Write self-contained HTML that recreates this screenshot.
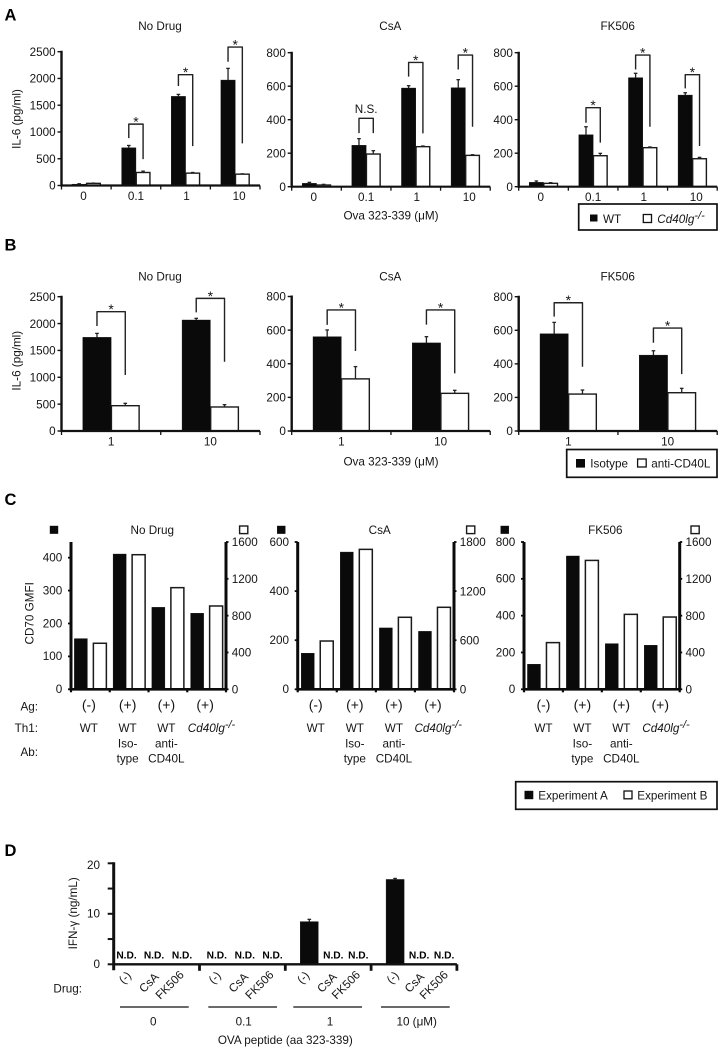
<!DOCTYPE html>
<html lang="en">
<head>
<meta charset="utf-8">
<title>IL-6, CD70 and IFN-γ responses</title>
<style>
html,body{margin:0;padding:0;background:#fff;}
svg{display:block;}
text{font-family:"Liberation Sans",Arial,sans-serif;font-size:11.7px;fill:#151515;}
.letter{font-size:16.5px;font-weight:bold;fill:#000;}
.paren{font-size:14px;}
.nd{font-size:10.2px;font-weight:bold;fill:#000;}
.frame{fill:#fff;stroke:#111;stroke-width:1.7;}
.sw-b{fill:#0a0a0a;stroke:#0a0a0a;stroke-width:1;}
.sw-w{fill:#fff;stroke:#111;stroke-width:1.3;}
</style>
</head>
<body>
<svg id="figure" xmlns="http://www.w3.org/2000/svg" width="718" height="1050" viewBox="0 0 718 1050">
<rect x="0" y="0" width="718" height="1050" fill="#fff"/>

<text class="letter" x="4.5" y="20.5">A</text>
<text class="letter" x="4.5" y="250.5">B</text>
<text class="letter" x="4.5" y="505">C</text>
<text class="letter" x="4.5" y="856">D</text>

<text x="160" y="30" text-anchor="middle">No Drug</text>
<text x="390.3" y="30" text-anchor="middle">CsA</text>
<text x="617.7" y="30" text-anchor="middle">FK506</text>
<text transform="translate(20.7,119) rotate(-90)" text-anchor="middle">IL-6 (pg/ml)</text>
<text x="391" y="219.5" text-anchor="middle">Ova 323-339 (μM)</text>

<g>
<rect class="frame" x="578.7" y="204" width="138.3" height="26"/>
<rect class="sw-b" x="590.5" y="215" width="6.5" height="6"/>
<text x="603" y="223">WT</text>
<rect class="sw-w" x="643.3" y="214.5" width="8.2" height="8"/>
<text x="657.3" y="223" font-style="italic">Cd40lg<tspan dy="-4" font-size="11">-/-</tspan></text>
</g>

<text x="160" y="280.7" text-anchor="middle">No Drug</text>
<text x="390.3" y="280.7" text-anchor="middle">CsA</text>
<text x="617.7" y="280.7" text-anchor="middle">FK506</text>
<text transform="translate(20.7,360.7) rotate(-90)" text-anchor="middle">IL-6 (pg/ml)</text>
<text x="391" y="465.7" text-anchor="middle">Ova 323-339 (μM)</text>

<g>
<rect class="frame" x="566.7" y="449.5" width="150.3" height="27.8"/>
<rect class="sw-b" x="576.5" y="459.5" width="8" height="7.6"/>
<text x="590.3" y="467.5">Isotype</text>
<rect class="sw-w" x="637.6" y="459" width="8.6" height="8"/>
<text x="651.3" y="467.5">anti-CD40L</text>
</g>

<text x="152.3" y="534" text-anchor="middle">No Drug</text>
<text x="379.7" y="534" text-anchor="middle">CsA</text>
<text x="605.3" y="534" text-anchor="middle">FK506</text>
<text transform="translate(33.5,613.3) rotate(-90)" text-anchor="middle">CD70 GMFI</text>
<text x="38" y="710.7" text-anchor="end">Ag:</text>
<text x="38" y="732" text-anchor="end">Th1:</text>
<text x="38" y="756" text-anchor="end">Ab:</text>

<g>
<rect class="frame" x="515.7" y="781.7" width="201.3" height="27.6"/>
<rect class="sw-b" x="525" y="791.3" width="7.8" height="7.4"/>
<text x="538.3" y="799.3">Experiment A</text>
<rect class="sw-w" x="624" y="791" width="8" height="7.8"/>
<text x="637.3" y="799.3">Experiment B</text>
</g>

<text transform="translate(77,913.3) rotate(-90)" text-anchor="middle">IFN-γ (ng/mL)</text>
<text x="82" y="992.7" text-anchor="end">Drug:</text>
<text x="285.3" y="1044" text-anchor="middle">OVA peptide (aa 323-339)</text>
</svg>

<script>
// ---- Panel A data ----
const aCategories = ['0', '0.1', '1', '10'];

const a1Ticks = [0, 500, 1000, 1500, 2000, 2500];
const a1Black = [25, 704, 1665, 1970];
const a1BlackErr = [8, 44, 37, 218];
const a1White = [40, 243, 231, 212];
const a1WhiteErr = [5, 25, 12, 6];
const a1BracketTop = [null, 1147, 2070, 2587];
const a1BracketLeft = [null, 885, 1858, 2313];
const a1BracketRight = [null, 493, 736, 786];
const a1Marks = [null, '*', '*', '*'];

const a2Ticks = [0, 200, 400, 600, 800];
const a2Black = [20, 247, 589, 591];
const a2BlackErr = [6, 40, 14, 48];
const a2White = [10, 195, 239, 187];
const a2WhiteErr = [4, 20, 4, 4];
const a2BracketTop = [null, 408, 742, 786];
const a2BracketLeft = [null, 320, 657, 700];
const a2BracketRight = [null, 320, 318, 358];
const a2Marks = [null, 'N.S.', '*', '*'];

const a3Ticks = [0, 200, 400, 600, 800];
const a3Black = [26, 310, 651, 547];
const a3BlackErr = [8, 48, 26, 14];
const a3White = [20, 185, 233, 167];
const a3WhiteErr = [4, 14, 4, 8];
const a3BracketTop = [null, 472, 786, 669];
const a3BracketLeft = [null, 382, 700, 587];
const a3BracketRight = [null, 263, 358, 243];
const a3Marks = [null, '*', '*', '*'];

// ---- Panel B data ----
const bCategories = ['1', '10'];

const b1Ticks = [0, 500, 1000, 1500, 2000, 2500];
const b1Black = [1743, 2066];
const b1BlackErr = [74, 31];
const b1White = [471, 447];
const b1WhiteErr = [44, 43];
const b1BracketTop = [2221, 2469];
const b1BracketLeft = [1954, 2208];
const b1BracketRight = [1042, 1290];
const b1Marks = ['*', '*'];

const b2Ticks = [0, 200, 400, 600, 800];
const b2Black = [561, 524];
const b2BlackErr = [40, 37];
const b2White = [310, 224];
const b2WhiteErr = [73, 18];
const b2BracketTop = [720, 720];
const b2BracketLeft = [631, 633];
const b2BracketRight = [476, 343];
const b2Marks = ['*', '*'];

const b3Ticks = [0, 200, 400, 600, 800];
const b3Black = [579, 452];
const b3BlackErr = [68, 26];
const b3White = [220, 228];
const b3WhiteErr = [24, 26];
const b3BracketTop = [764, 613];
const b3BracketLeft = [681, 526];
const b3BracketRight = [383, 339];
const b3Marks = ['*', '*'];

// ---- Panel C data ----
const cAg = ['(-)', '(+)', '(+)', '(+)'];
const cTh1 = ['WT', 'WT', 'WT', 'Cd40lg'];
const cAbTop = ['', 'Iso-', 'anti-', ''];
const cAbBottom = ['', 'type', 'CD40L', ''];

const c1LeftTicks = [0, 100, 200, 300, 400];
const c1RightTicks = [0, 400, 800, 1200, 1600];
const c1ExperimentA = [154, 411, 249, 231];
const c1ExperimentB = [500, 1462, 1104, 905];

const c2LeftTicks = [0, 200, 400, 600];
const c2RightTicks = [0, 600, 1200, 1800];
const c2ExperimentA = [147, 559, 250, 236];
const c2ExperimentB = [590, 1710, 880, 1002];

const c3LeftTicks = [0, 200, 400, 600, 800];
const c3RightTicks = [0, 400, 800, 1200, 1600];
const c3ExperimentA = [136, 724, 248, 239];
const c3ExperimentB = [507, 1400, 814, 785];

// ---- Panel D data ----
const dDoses = ['0', '0.1', '1', '10 (μM)'];
const dDrugs = ['(-)', 'CsA', 'FK506'];
const dYTicks = [0, 5, 10, 15, 20];
const dYLabels = ['0', '', '10', '', '20'];
const dNoDrug = [null, null, 8.45, 16.8];
const dNoDrugErr = [0, 0, 0.45, 0.2];
const dCsA = [null, null, null, null];
const dFK506 = [null, null, null, null];

// ---- Drawing helpers ----
const svg = document.getElementById('figure');
const NS = 'http://www.w3.org/2000/svg';
const INK = '#111';

function group(name) {
  const el = document.createElementNS(NS, 'g');
  
  
  svg.appendChild(el);
  return el;
}
function line(parent, name, x1, y1, x2, y2, width, color) {
  const el = document.createElementNS(NS, 'line');
  
  
  el.setAttribute('x1', x1);
  el.setAttribute('y1', y1);
  el.setAttribute('x2', x2);
  el.setAttribute('y2', y2);
  el.setAttribute('stroke', color || INK);
  el.setAttribute('stroke-width', width);
  parent.appendChild(el);
  return el;
}
function bar(parent, name, x, y, w, h, solid, strokeW) {
  const el = document.createElementNS(NS, 'rect');
  
  
  el.setAttribute('x', x);
  el.setAttribute('y', y);
  el.setAttribute('width', w);
  el.setAttribute('height', Math.max(h, 0));
  el.setAttribute('fill', solid ? '#0a0a0a' : '#fff');
  el.setAttribute('stroke', solid ? '#0a0a0a' : '#1a1a1a');
  el.setAttribute('stroke-width', solid ? 0.4 : strokeW);
  parent.appendChild(el);
  return el;
}
function label(parent, name, str, x, y, anchor, cls) {
  const el = document.createElementNS(NS, 'text');
  
  
  el.setAttribute('x', x);
  el.setAttribute('y', y);
  el.setAttribute('text-anchor', anchor || 'middle');
  if (cls) el.setAttribute('class', cls);
  el.textContent = str;
  parent.appendChild(el);
  return el;
}
function bracket(parent, name, xl, yl, xr, yr, yt) {
  const el = document.createElementNS(NS, 'polyline');
  
  
  el.setAttribute('points', xl + ',' + yl + ' ' + xl + ',' + yt + ' ' + xr + ',' + yt + ' ' + xr + ',' + yr);
  el.setAttribute('fill', 'none');
  el.setAttribute('stroke', '#222');
  el.setAttribute('stroke-width', 1.4);
  el.setAttribute('stroke-linejoin', 'round');
  parent.appendChild(el);
  return el;
}
function errorBar(parent, name, x, yBase, yTop) {
  line(parent, name + '-stem', x, yBase, x, yTop, 1.3, '#222');
  line(parent, name + '-cap', x - 1.8, yTop, x + 1.8, yTop, 1.3, '#222');
}

function il6Panel(o) {
  const g = group(o.name);
  const yOf = v => o.y0 - (v / o.max) * (o.y0 - o.yTop);
  const n = o.cats.length;
  const band = o.w / n;
  const xc = i => o.x + band * (i + 0.5);

  o.black.forEach((v, i) => {
    const cx = xc(i);
    bar(g, o.name + '-bar-black-' + o.cats[i], cx - o.barW, yOf(v), o.barW, o.y0 - yOf(v), true, 0);
    if (o.blackErr[i]) errorBar(g, o.name + '-error-black-' + o.cats[i], cx - o.barW / 2, yOf(v), yOf(v + o.blackErr[i]));
  });
  o.white.forEach((v, i) => {
    const cx = xc(i);
    bar(g, o.name + '-bar-white-' + o.cats[i], cx + 0.3, yOf(v), o.barW - 0.6, o.y0 - yOf(v), false, 1.4);
    if (o.whiteErr[i]) errorBar(g, o.name + '-error-white-' + o.cats[i], cx + o.barW / 2, yOf(v), yOf(v + o.whiteErr[i]));
  });

  line(g, o.name + '-y-axis', o.x, o.yTop - 1, o.x, o.y0 + 1, 2.4, INK);
  line(g, o.name + '-x-axis', o.x, o.y0, o.x + o.w, o.y0, 2.2, INK);
  o.ticks.forEach(t => {
    line(g, o.name + '-y-tick-' + t, o.x - 4, yOf(t), o.x, yOf(t), 1.4, INK);
    label(g, o.name + '-y-label-' + t, String(t), o.x - 5.8, yOf(t) + 4.2, 'end');
  });
  for (let i = 0; i <= n; i++) {
    line(g, o.name + '-x-tick-' + i, o.x + band * i, o.y0, o.x + band * i, o.y0 + 4, 1.3, INK);
  }
  o.cats.forEach((c, i) => {
    label(g, o.name + '-x-label-' + c, c, xc(i) + (o.nudge ? o.nudge[i] : 0), o.y0 + 14.5, 'middle');
  });
  o.marks.forEach((m, i) => {
    if (!m) return;
    const xl = xc(i) - o.barW / 2;
    const xr = xc(i) + o.barW / 2;
    const yt = yOf(o.bTop[i]);
    bracket(g, o.name + '-bracket-' + o.cats[i], xl, yOf(o.bLeft[i]), xr, yOf(o.bRight[i]), yt);
    if (m === '*') {
      const s = label(g, o.name + '-significance-' + o.cats[i], m, xc(i), yt + 2.5, 'middle');
      s.setAttribute('style', 'font-size:14px');
    } else {
      label(g, o.name + '-significance-' + o.cats[i], m, xc(i), yt - 5.5, 'middle');
    }
  });
}

function cd70Panel(o) {
  const g = group(o.name);
  const y0 = 689.3, yTop = 542;
  const yL = v => y0 - (v / o.leftMax) * (y0 - yTop);
  const yR = v => y0 - (v / o.rightMax) * (y0 - yTop);
  const band = (o.xR - o.xL) / 4;
  const xc = i => o.xL + band * (i + 0.5);

  o.a.forEach((v, i) => {
    bar(g, o.name + '-bar-a-' + i, xc(i) - 16, yL(v), 13, y0 - yL(v), true, 0);
  });
  o.b.forEach((v, i) => {
    bar(g, o.name + '-bar-b-' + i, xc(i) + 3, yR(v), 13, y0 - yR(v), false, 1.5);
  });

  line(g, o.name + '-left-axis', o.xL, yTop, o.xL, y0 + 1, 3, '#0a0a0a');
  line(g, o.name + '-right-axis', o.xR, yTop, o.xR, y0 + 1, 3, '#0a0a0a');
  line(g, o.name + '-x-axis', o.xL, y0, o.xR, y0, 2.6, '#0a0a0a');
  o.leftTicks.forEach(t => {
    line(g, o.name + '-left-tick-' + t, o.xL - 3, yL(t), o.xL, yL(t), 1.8, '#0a0a0a');
    label(g, o.name + '-left-label-' + t, String(t), o.xL - 8.7, yL(t) + 3.8, 'end');
  });
  o.rightTicks.forEach(t => {
    line(g, o.name + '-right-tick-' + t, o.xR, yR(t), o.xR + 2.5, yR(t), 1.8, '#0a0a0a');
    label(g, o.name + '-right-label-' + t, String(t), o.xR + 5.8, yR(t) + 4.2, 'start');
  });
  for (let i = 0; i <= 4; i++) {
    line(g, o.name + '-x-tick-' + i, o.xL + band * i, y0, o.xL + band * i, y0 + 3, 2.2, '#0a0a0a');
  }

  cAg.forEach((s, i) => {
    label(g, o.name + '-ag-' + i, s, xc(i) - 1.5 + o.shift, 709.5, 'middle', 'paren');
  });
  cTh1.forEach((s, i) => {
    const isKo = s === 'Cd40lg';
    const el = label(g, o.name + '-th1-' + i, s, isKo ? o.xL + 140.5 + o.shift : xc(i) - 1.5 + o.shift, 731.8, 'middle');
    if (isKo) {
      el.setAttribute('font-style', 'italic');
      const sup = document.createElementNS(NS, 'tspan');
      sup.setAttribute('dy', '-4');
      sup.setAttribute('font-size', '11');
      sup.textContent = '-/-';
      el.appendChild(sup);
    }
  });
  cAbTop.forEach((s, i) => {
    if (s) label(g, o.name + '-ab-top-' + i, s, xc(i) - 1.5 + o.shift, 747.7, 'middle');
  });
  cAbBottom.forEach((s, i) => {
    if (s) label(g, o.name + '-ab-bottom-' + i, s, xc(i) - 1.5 + o.shift, 762.7, 'middle');
  });

  const hdrY = 526;
  bar(g, o.name + '-key-a', o.keyA, hdrY, 8, 7.6, true, 0);
  bar(g, o.name + '-key-b', o.keyB, hdrY, 8.2, 7.6, false, 1.4);
}

function ifnPanel() {
  const g = group('panel-d');
  const x0 = 113.7, y0 = 964.3, yTop = 863.3, band = 85.8;
  const yOf = v => y0 - (v / 20) * (y0 - yTop);
  const slotOffsets = [[12.8, 40.3, 68.3], [17.3, 45.3, 73], [24, 48, 73], [24, 48, 73]];
  const drugOffsets = [[13.3, 37.3, 58], [17.3, 41, 62], [20, 43.7, 62.7], [23.7, 45.4, 64.7]];
  const series = [dNoDrug, dCsA, dFK506];

  series.forEach((arr, s) => {
    arr.forEach((v, i) => {
      const left = x0 + band * i;
      const cx = left + slotOffsets[i][s];
      if (v === null) {
        label(g, 'nd-' + dDoses[i] + '-' + dDrugs[s], 'N.D.', cx, 958.7, 'middle', 'nd');
      } else {
        bar(g, 'bar-' + dDoses[i] + '-' + dDrugs[s], cx - 9, yOf(v), 18, y0 - yOf(v), true, 0);
        if (s === 0 && dNoDrugErr[i]) errorBar(g, 'error-' + dDoses[i], cx, yOf(v), yOf(v + dNoDrugErr[i]));
      }
    });
  });

  line(g, 'y-axis-d', x0, yTop - 1, x0, y0 + 6, 3, '#111');
  line(g, 'x-axis-d', x0, y0, x0 + band * 4, y0, 2.4, '#111');
  dYTicks.forEach((t, i) => {
    line(g, 'y-tick-d-' + t, x0 - 6, yOf(t), x0, yOf(t), 2, '#111');
    if (dYLabels[i]) label(g, 'y-label-d-' + t, dYLabels[i], 100, yOf(t) + (t === 20 ? 5.8 : 3.6), 'end');
  });
  for (let i = 1; i <= 4; i++) {
    line(g, 'x-tick-d-' + i, x0 + band * i, y0, x0 + band * i, y0 + 6.5, 2.8, '#111');
  }

  const doseCenters = [39.6, 130, 216.3, 303];
  const rulesLeft = [6.3, 94.6, 179.6, 267.3];
  dDoses.forEach((dose, i) => {
    line(g, 'dose-rule-' + dose, x0 + rulesLeft[i], 1007, x0 + rulesLeft[i] + 68.7, 1007, 1.3, '#111');
    label(g, 'dose-label-' + dose, dose, x0 + doseCenters[i], 1025.7, 'middle');
    dDrugs.forEach((drug, s) => {
      const cx = x0 + band * i + drugOffsets[i][s];
      const cy = [976.7, 981.7, 984][s];
      const el = label(g, 'drug-label-' + dose + '-' + drug, drug, 0, 0, 'middle');
      el.setAttribute('transform', 'translate(' + cx + ',' + (cy + 3) + ') rotate(-45) translate(0,1)');
    });
  });
}

// ---- Draw panels ----
const aNudge = [-2.8, 0, 1, 3.9];
il6Panel({name: 'panel-a-no-drug', x: 61.5, w: 198.5, y0: 185.5, yTop: 51.7, max: 2500, barW: 14.3, nudge: aNudge, cats: aCategories, ticks: a1Ticks, black: a1Black, blackErr: a1BlackErr, white: a1White, whiteErr: a1WhiteErr, bTop: a1BracketTop, bLeft: a1BracketLeft, bRight: a1BracketRight, marks: a1Marks});
il6Panel({name: 'panel-a-csa', x: 291.7, w: 198.5, y0: 186.7, yTop: 52.7, max: 800, barW: 14.3, nudge: aNudge, cats: aCategories, ticks: a2Ticks, black: a2Black, blackErr: a2BlackErr, white: a2White, whiteErr: a2WhiteErr, bTop: a2BracketTop, bLeft: a2BracketLeft, bRight: a2BracketRight, marks: a2Marks});
il6Panel({name: 'panel-a-fk506', x: 518.7, w: 198.5, y0: 186.7, yTop: 52.7, max: 800, barW: 14.3, nudge: aNudge, cats: aCategories, ticks: a3Ticks, black: a3Black, blackErr: a3BlackErr, white: a3White, whiteErr: a3WhiteErr, bTop: a3BracketTop, bLeft: a3BracketLeft, bRight: a3BracketRight, marks: a3Marks});

il6Panel({name: 'panel-b-no-drug', x: 61.5, w: 198.5, y0: 431, yTop: 296.7, max: 2500, barW: 28.3, cats: bCategories, ticks: b1Ticks, black: b1Black, blackErr: b1BlackErr, white: b1White, whiteErr: b1WhiteErr, bTop: b1BracketTop, bLeft: b1BracketLeft, bRight: b1BracketRight, marks: b1Marks});
il6Panel({name: 'panel-b-csa', x: 291.7, w: 198.5, y0: 431, yTop: 296.5, max: 800, barW: 28.3, cats: bCategories, ticks: b2Ticks, black: b2Black, blackErr: b2BlackErr, white: b2White, whiteErr: b2WhiteErr, bTop: b2BracketTop, bLeft: b2BracketLeft, bRight: b2BracketRight, marks: b2Marks});
il6Panel({name: 'panel-b-fk506', x: 518.7, w: 198.5, y0: 431, yTop: 296.7, max: 800, barW: 28.3, cats: bCategories, ticks: b3Ticks, black: b3Black, blackErr: b3BlackErr, white: b3White, whiteErr: b3WhiteErr, bTop: b3BracketTop, bLeft: b3BracketLeft, bRight: b3BracketRight, marks: b3Marks});

cd70Panel({name: 'panel-c-no-drug', xL: 71, xR: 226, leftMax: 447.6, rightMax: 1600, leftTicks: c1LeftTicks, rightTicks: c1RightTicks, a: c1ExperimentA, b: c1ExperimentB, shift: 0, keyA: 50, keyB: 239.6});
cd70Panel({name: 'panel-c-csa', xL: 297.7, xR: 454, leftMax: 600, rightMax: 1800, leftTicks: c2LeftTicks, rightTicks: c2RightTicks, a: c2ExperimentA, b: c2ExperimentB, shift: 0, keyA: 277.3, keyB: 466.6});
cd70Panel({name: 'panel-c-fk506', xL: 524, xR: 679.7, leftMax: 800, rightMax: 1600, leftTicks: c3LeftTicks, rightTicks: c3RightTicks, a: c3ExperimentA, b: c3ExperimentB, shift: 1.5, keyA: 500.8, keyB: 691});

ifnPanel();
</script>
</body>
</html>
